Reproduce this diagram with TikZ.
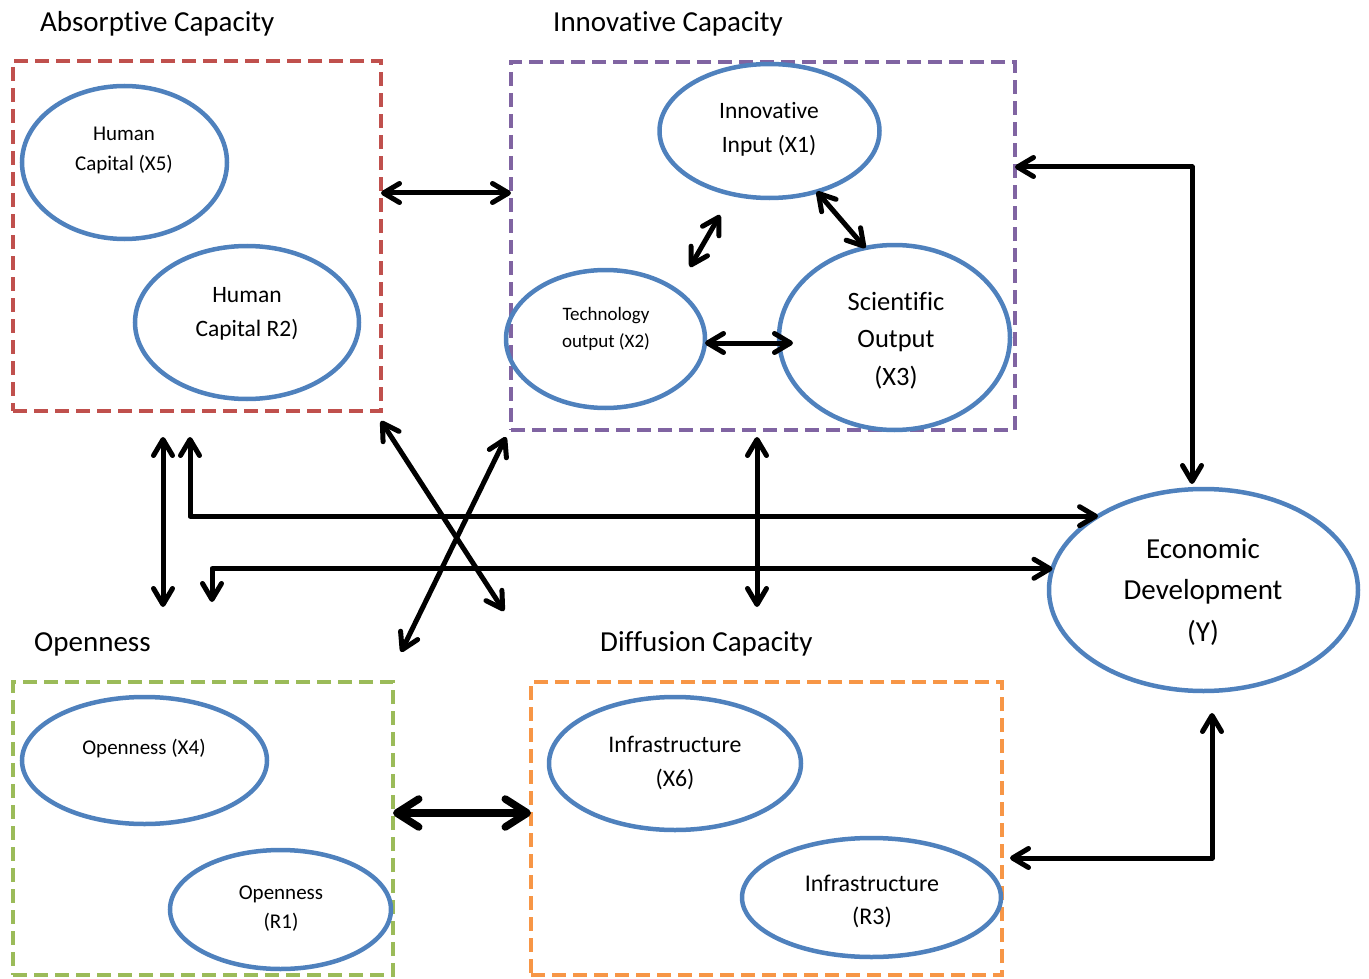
\documentclass[tikz,border=0pt]{standalone}
\usepackage{fontspec}
\setmainfont{Carlito}[Ligatures={NoCommon}, Contextuals={NoAlternate}]
\usetikzlibrary{arrows.meta,shapes.geometric}
\definecolor{ellblue}{HTML}{4F81BD}
\definecolor{boxred}{HTML}{C0504D}
\definecolor{boxpurple}{HTML}{8064A2}
\definecolor{boxgreen}{HTML}{9BBB59}
\definecolor{boxorange}{HTML}{F79646}
\begin{document}
\begin{tikzpicture}[x=1pt,y=-1pt,
  grp/.style={draw=#1, rectangle, line width=4.5pt, dash pattern=on 14pt off 7pt, inner sep=0pt, outer sep=0pt},
  ell/.style={draw=ellblue, ellipse, line width=4.5pt, inner sep=0pt, outer sep=0pt},
  ttl/.style={anchor=base west, inner sep=0pt, font=\fontsize{29}{35}\selectfont},
  txt/.style={align=center, inner sep=0pt},
  arr/.style={line width=5pt, line cap=round, line join=round, <->, >={Straight Barb[length=16pt,width=19pt,round]}},
  arrthick/.style={line width=7.5pt, line cap=round, line join=round, <->, >={Straight Barb[length=22pt,width=28pt,round]}}
]
\useasboundingbox (0,0) rectangle (1369,979);

% group boxes
\node[grp=boxred, minimum width=368pt, minimum height=350pt] (abs) at (197,236) {};
\node[grp=boxpurple, minimum width=504pt, minimum height=368pt] (inn) at (763,246) {};
\node[grp=boxgreen, minimum width=380pt, minimum height=293pt] (opn) at (203,828.5) {};
\node[grp=boxorange, minimum width=471pt, minimum height=293pt] (dif) at (766.5,828.5) {};

% titles
\node[ttl] (tabs) at (40,32) {Absorptive Capacity};
\node[ttl] (tinn) at (553,32) {Innovative Capacity};
\node[ttl] (topn) at (34,651) {Openness};
\node[ttl] (tdif) at (600,651) {Diffusion Capacity};

% ellipses
\node[ell, minimum width=205pt, minimum height=153pt] (x5) at (124.5,162.5) {};
\node[ell, minimum width=224pt, minimum height=153pt] (r2) at (247,322.5) {};
\node[ell, minimum width=220pt, minimum height=134pt] (x1) at (769.5,131) {};
\node[ell, minimum width=199pt, minimum height=138pt] (x2) at (605.5,339) {};
\node[ell, minimum width=231pt, minimum height=185pt] (x3) at (894.5,337.5) {};
\node[ell, minimum width=309pt, minimum height=202pt] (ed) at (1203.5,590) {};
\node[ell, minimum width=245pt, minimum height=127pt] (x4) at (144.5,760.5) {};
\node[ell, minimum width=221pt, minimum height=119pt] (r1) at (280.5,909.5) {};
\node[ell, minimum width=252pt, minimum height=133pt] (x6) at (675,763.5) {};
\node[ell, minimum width=259pt, minimum height=119pt] (r3) at (871.5,897.5) {};

% ellipse texts
\node[txt, font=\fontsize{21}{30}\selectfont] (lx5) at (124,150) {Human\\Capital (X5)};
\node[txt, font=\fontsize{23.5}{34}\selectfont] (lr2) at (247,314) {Human\\Capital R2)};
\node[txt, font=\fontsize{23.5}{34}\selectfont] (lx1) at (769,129) {Innovative\\Input (X1)};
\node[txt, font=\fontsize{19}{27}\selectfont] (lx2) at (606,329) {Technology\\output (X2)};
\node[txt, font=\fontsize{26.5}{37.5}\selectfont] (lx3) at (896,340.5) {Scientific\\Output\\(X3)};
\node[txt, font=\fontsize{29}{41.5}\selectfont] (led) at (1203,592) {Economic\\Development\\(Y)};
\node[txt, font=\fontsize{21}{29}\selectfont] (lx4) at (144,748.5) {Openness (X4)};
\node[txt, font=\fontsize{21}{29}\selectfont] (lr1) at (281,909) {Openness\\(R1)};
\node[txt, font=\fontsize{23.8}{34}\selectfont] (lx6) at (675,763) {Infrastructure\\(X6)};
\node[txt, font=\fontsize{24}{33}\selectfont] (lr3) at (872,901.5) {Infrastructure\\(R3)};

% free ends
\coordinate (c4a) at (690,267);
\coordinate (c4b) at (720,215);
\coordinate (c10a) at (381,421);
\coordinate (c10b) at (504,611);
\coordinate (c11a) at (506,437);
\coordinate (c11b) at (401,652);

% connectors
\draw[arr] (abs.east |- 0,193) -- (inn.west |- 0,193);
\draw[arr, shorten >=5pt] (inn.east |- 0,167) -| (ed.north -| 1192,0);
\draw[arr] (x1.-52) -- (x3.108);
\draw[arr] (c4a) -- (c4b);
\draw[arr, shorten >=-14pt] (x2.east |- 0,343) -- (x3.west |- 0,343);
\draw[arr, shorten <=26pt, shorten >=75pt] (abs.south -| 163,0) -- (opn.north -| 163,0);
\draw[arr, shorten <=26pt] (abs.south -| 190,0) |- (ed.145);
\draw[arr, shorten >=80pt] (ed.172) -| (opn.north -| 212,0);
\draw[arr, shorten <=7pt, shorten >=75pt] (inn.south -| 757,0) -- (dif.north -| 757,0);
\draw[arr] (c10a) -- (c10b);
\draw[arr] (c11a) -- (c11b);
\draw[arrthick] (opn.east |- 0,813) -- (dif.west |- 0,813);
\draw[arr, shorten <=8pt, shorten >=22pt] (dif.east |- 0,858) -| (ed.south -| 1212,0);
\end{tikzpicture}
\end{document}
